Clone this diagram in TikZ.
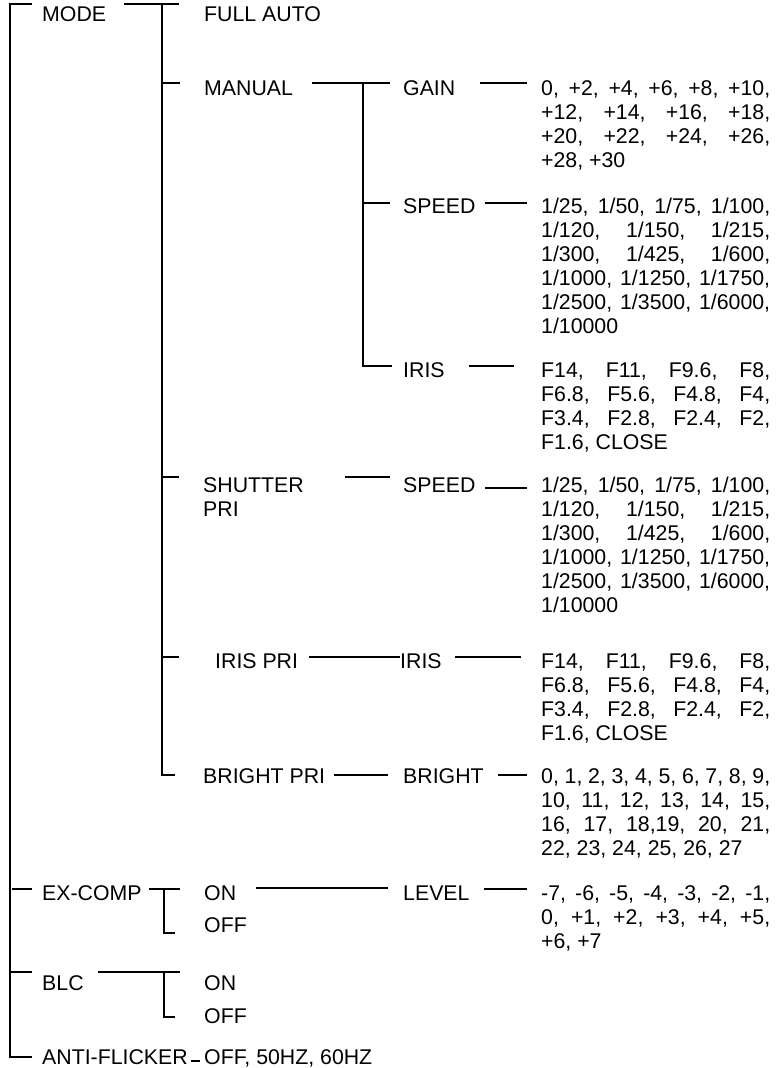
\documentclass[tikz,border=0pt]{standalone}
\usepackage{fontspec}
\setmainfont{Liberation Sans}

\begin{document}
\begin{tikzpicture}[
    x=1pt, y=-1pt,
    every node/.style={font=\fontsize{21.3pt}{24pt}\selectfont},
    lbl/.style={anchor=base west, inner sep=0pt},
    vals/.style={anchor=base west, inner sep=0pt, text width=229pt, align=justify,
                 execute at begin node={\tolerance=10000\relax\exhyphenpenalty=10000\relax}},
    conn/.style={line width=1.9pt}
]
\useasboundingbox (0,0) rectangle (780,1068);

% first level
\node[lbl] (mode) at (42,21.7) {MODE};
\node[lbl] (exComp) at (42,900) {EX-COMP};
\node[lbl] (blc) at (42,990) {BLC};
\node[lbl] (antiFlicker) at (42,1064) {ANTI-FLICKER};

% mode items
\node[lbl] (fullAuto) at (204,21.7) {FULL AUTO};
\node[lbl] (manual) at (204,95) {MANUAL};
\node[lbl, text width=110pt, align=left] (shutterPri) at (203,492) {SHUTTER\\PRI};
\node[lbl] (irisPri) at (215,668) {IRIS PRI};
\node[lbl] (brightPri) at (203,783) {BRIGHT PRI};

% third level
\node[lbl] (gain) at (403,95) {GAIN};
\node[lbl] (speedA) at (403,213) {SPEED};
\node[lbl] (irisA) at (403,377) {IRIS};
\node[lbl] (speedB) at (403,492) {SPEED};
\node[lbl] (irisB) at (400,668) {IRIS};
\node[lbl] (bright) at (403,783) {BRIGHT};

\node[lbl] (exOn) at (204,900) {ON};
\node[lbl] (exOff) at (204,932) {OFF};
\node[lbl] (level) at (403,900) {LEVEL};
\node[lbl] (blcOn) at (204,990) {ON};
\node[lbl] (blcOff) at (204,1023) {OFF};
\node[lbl] (flickerVal) at (204,1064) {OFF, 50HZ, 60HZ};

% value lists
\node[vals] (gainVal) at (541,95) {0, +2, +4, +6, +8, +10,\linebreak
  +12, +14, +16, +18,\linebreak +20, +22, +24, +26,\linebreak +28, +30};
\node[vals] (speedAVal) at (541,213) {1/25, 1/50, 1/75, 1/100,\linebreak
  1/120, 1/150, 1/215,\linebreak 1/300, 1/425, 1/600,\linebreak
  1/1000, 1/1250, 1/1750,\linebreak 1/2500, 1/3500, 1/6000,\linebreak 1/10000};
\node[vals] (irisAVal) at (541,377) {F14, F11, F9.6, F8,\linebreak
  F6.8, F5.6, F4.8, F4,\linebreak F3.4, F2.8, F2.4, F2,\linebreak F1.6, CLOSE};
\node[vals] (speedBVal) at (541,492) {1/25, 1/50, 1/75, 1/100,\linebreak
  1/120, 1/150, 1/215,\linebreak 1/300, 1/425, 1/600,\linebreak
  1/1000, 1/1250, 1/1750,\linebreak 1/2500, 1/3500, 1/6000,\linebreak 1/10000};
\node[vals] (irisBVal) at (541,668) {F14, F11, F9.6, F8,\linebreak
  F6.8, F5.6, F4.8, F4,\linebreak F3.4, F2.8, F2.4, F2,\linebreak F1.6, CLOSE};
\node[vals] (brightVal) at (541,783) {0, 1, 2, 3, 4, 5, 6, 7, 8, 9,\linebreak
  10, 11, 12, 13, 14, 15,\linebreak 16, 17, 18,19, 20, 21,\linebreak 22, 23, 24, 25, 26, 27};
\node[vals] (levelVal) at (541,900) {-7, -6, -5, -4, -3, -2, -1,\linebreak
  0, +1, +2, +3, +4, +5,\linebreak +6, +7};

% root bracket
\draw[conn] ([shift={(-10,-18)}]mode.base west) -| ([shift={(-32,-7)}]antiFlicker.base west) -- ++(22,0);
\draw[conn] ([shift={(-30,-11)}]exComp.base west) -- ++(20,0);
\draw[conn] ([shift={(-32,-18)}]blc.base west) -- ++(22,0);

% mode
\draw[conn] ([shift={(18,-18)}]mode.base east) -- ([shift={(-25,-18)}]fullAuto.base west);
\draw[conn] ([shift={(-42,-18)}]fullAuto.base west) |- ([shift={(-28,-8)}]brightPri.base west);
\draw[conn] ([shift={(-42,-12)}]manual.base west) -- ++(18,0);
\draw[conn] ([shift={(-41,-15)}]shutterPri.base west) -- ++(17,0);
\draw[conn] ([shift={(-52,-11)}]irisPri.base west) -- ++(16,0);

% manual
\draw[conn] ([shift={(18.5,-12)}]manual.base east) -- ([shift={(-13,-12)}]gain.base west);
\draw[conn] ([shift={(-40,-12)}]gain.base west) |- ([shift={(-11,-11)}]irisA.base west);
\draw[conn] ([shift={(-40,-10)}]speedA.base west) -- ++(27,0);
\draw[conn] ([shift={(25,-12)}]gain.base east) -- ([shift={(-14,-12)}]gainVal.base west);
\draw[conn] ([shift={(9,-10)}]speedA.base east) -- ([shift={(-14,-10)}]speedAVal.base west);
\draw[conn] ([shift={(24,-11)}]irisA.base east) -- ([shift={(-27,-11)}]irisAVal.base west);

% shutter pri
\draw[conn] ([shift={(142,-15)}]shutterPri.base west) -- ([shift={(-13,-15)}]speedB.base west);
\draw[conn] ([shift={(9,-4)}]speedB.base east) -- ([shift={(-14,-4)}]speedBVal.base west);

% iris pri
\draw[conn] ([shift={(11,-11)}]irisPri.base east) -- ([yshift=11pt]irisB.base west);
\draw[conn] ([shift={(13,-11)}]irisB.base east) -- ([shift={(-20,-11)}]irisBVal.base west);

% bright pri
\draw[conn] ([shift={(9,-8)}]brightPri.base east) -- ([shift={(-15,-8)}]bright.base west);
\draw[conn] ([shift={(14,-8)}]bright.base east) -- ([shift={(-14,-8)}]brightVal.base west);

% ex-comp
\draw[conn] ([shift={(7,-11)}]exComp.base east) -- ([shift={(-24,-11)}]exOn.base west);
\draw[conn] ([shift={(-40,-11)}]exOn.base west) |- ([shift={(-29,1)}]exOff.base west);
\draw[conn] ([shift={(19.5,-12)}]exOn.base east) -- ([shift={(-15,-12)}]level.base west);
\draw[conn] ([shift={(14,-11)}]level.base east) -- ([shift={(-14,-11)}]levelVal.base west);

% blc
\draw[conn] ([shift={(14,-18)}]blc.base east) -- ([shift={(-24,-18)}]blcOn.base west);
\draw[conn] ([shift={(-40,-18)}]blcOn.base west) |- ([shift={(-29,-6)}]blcOff.base west);

% anti-flicker
\draw[conn] ([shift={(3,-3)}]antiFlicker.base east) -- ([shift={(-4,-3)}]flickerVal.base west);

\end{tikzpicture}
\end{document}
